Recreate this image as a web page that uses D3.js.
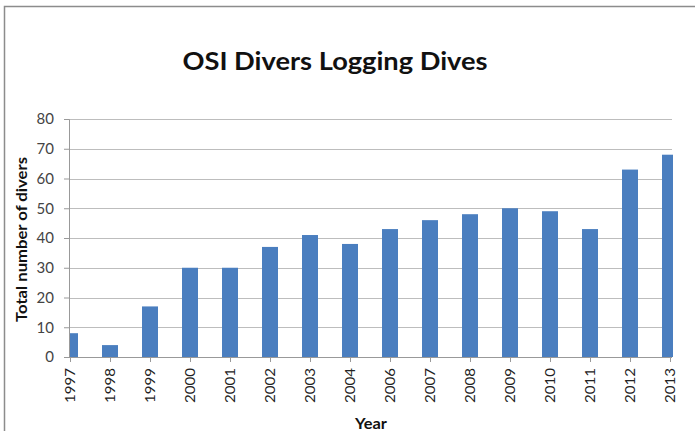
<!DOCTYPE html>
<html><head><meta charset="utf-8">
<script src="https://cdn.jsdelivr.net/npm/d3@7"></script>
<style>body{margin:0;background:#fff;}svg{display:block;}</style>
</head><body>
<svg id="c" width="695" height="431"></svg>
<script>
const years = ["1997","1998","1999","2000","2001","2002","2003","2004","2006","2007","2008","2009","2010","2011","2012","2013"];
const divers = [8,4,17,30,30,37,41,38,43,46,48,50,49,43,63,68];
const yTicks = [0,10,20,30,40,50,60,70,80];
const title = "OSI Divers Logging Dives";
const yTitle = "Total number of divers";
const xTitle = "Year";

const svg = d3.select("#c");
const font = "Lato, 'Open Sans', sans-serif";
const pL = 69, pR = 672, pT = 119, pB = 357;

svg.append("rect").attr("x",4.5).attr("y",6.5).attr("width",720).attr("height",450)
  .attr("fill","#fff").attr("stroke","#8c8c8c").attr("stroke-width",1.5);

const x = d3.scalePoint().domain(years).range([70, 670]);
const y = d3.scaleLinear().domain([0,80]).range([pB, pT]);

svg.append("defs").append("clipPath").attr("id","pc")
  .append("rect").attr("x",pL).attr("y",pT-5).attr("width",pR-pL+1).attr("height",pB-pT+5);

// gridlines
svg.append("g").selectAll("line").data(yTicks.filter(d=>d>0)).join("line")
  .attr("x1",pL).attr("x2",pR).attr("y1",d=>Math.round(y(d))+0.5).attr("y2",d=>Math.round(y(d))+0.5)
  .attr("stroke","#bdbdbd").attr("stroke-width",1.2);

// bars
const bw = 16;
svg.append("g").attr("clip-path","url(#pc)").selectAll("rect").data(years).join("rect")
  .attr("x",(d)=>x(d)-bw/2).attr("width",bw)
  .attr("y",(d,i)=>y(divers[i])).attr("height",(d,i)=>pB-y(divers[i]))
  .attr("fill","#4a7ebf");

// y axis
const ya = svg.append("g").attr("transform",`translate(${pL},0)`)
  .call(d3.axisLeft(y).tickValues(yTicks).tickSize(5).tickPadding(10));
ya.select(".domain").attr("stroke","#999");
ya.selectAll(".tick line").attr("stroke","#999");
ya.selectAll("text").attr("font-family",font).attr("font-size",15).attr("fill","#444");

// x axis
const xa = svg.append("g").attr("transform",`translate(0,${pB})`)
  .call(d3.axisBottom(x).tickSize(5).tickPadding(4));
xa.select(".domain").attr("d",`M${pL},0.5H${pR}`).attr("stroke","#999");
xa.selectAll(".tick line").attr("stroke","#999");
xa.selectAll("text").attr("font-family",font).attr("font-size",13.5).attr("fill","#222")
  .attr("transform","rotate(-90)").attr("text-anchor","end").attr("dy","0.35em").attr("x",-11).attr("y",0)
  .attr("textLength",35).attr("lengthAdjust","spacingAndGlyphs");

svg.append("text").attr("x",335).attr("y",70).attr("text-anchor","middle")
  .attr("font-family",font).attr("font-weight","bold").attr("font-size",24).attr("fill","#111")
  .attr("textLength",305).attr("lengthAdjust","spacingAndGlyphs").text(title);

svg.append("text").attr("transform","translate(27,239.5) rotate(-90)").attr("text-anchor","middle")
  .attr("font-family",font).attr("font-weight","bold").attr("font-size",14.5).attr("fill","#111")
  .attr("textLength",165).attr("lengthAdjust","spacingAndGlyphs").text(yTitle);

svg.append("text").attr("x",371).attr("y",429).attr("text-anchor","middle")
  .attr("font-family",font).attr("font-weight","bold").attr("font-size",14.5).attr("fill","#111")
  .attr("textLength",32).attr("lengthAdjust","spacingAndGlyphs").text(xTitle);
</script>
</body></html>
